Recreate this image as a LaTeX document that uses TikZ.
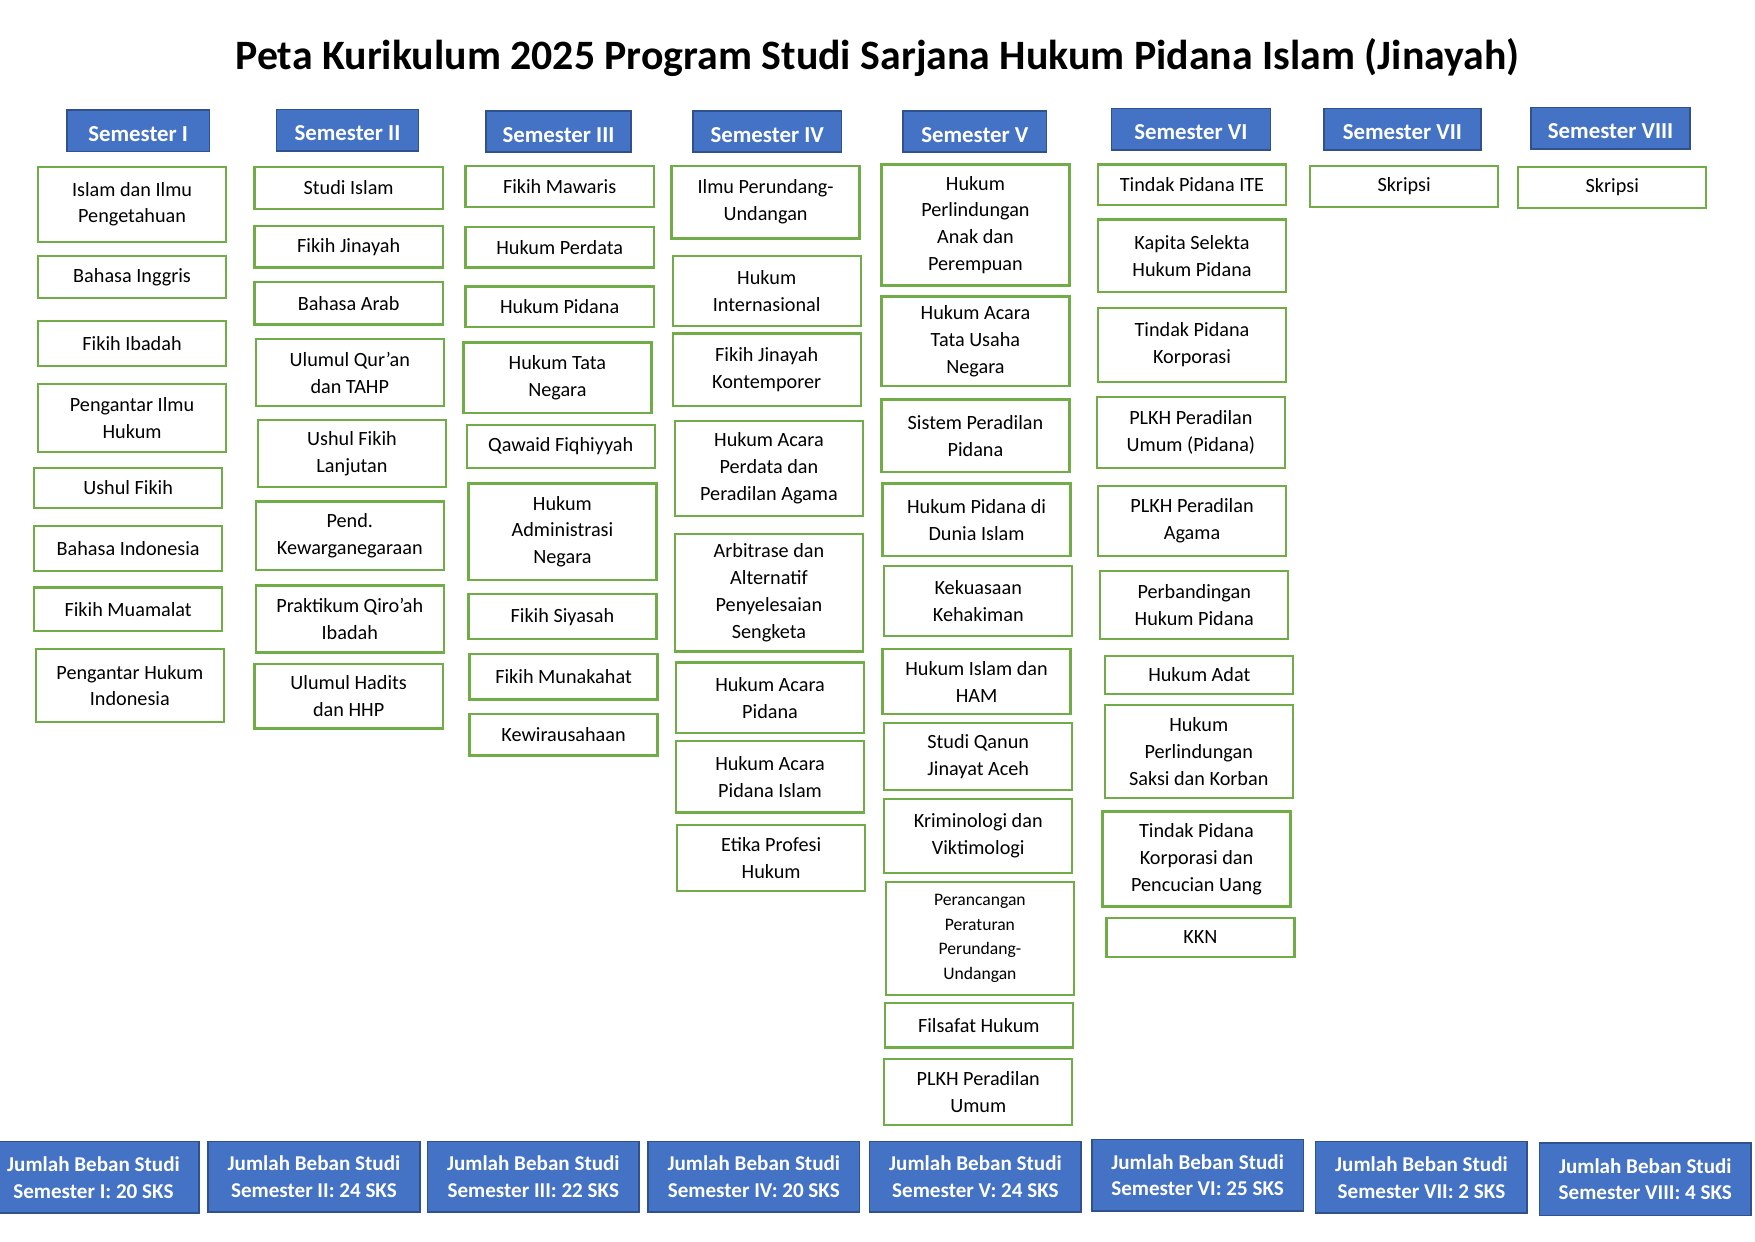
\documentclass[tikz,border=0pt]{standalone}
\usepackage{fontspec}
\setmainfont{Carlito}
\usetikzlibrary{positioning}
\definecolor{hdrblue}{HTML}{4472C4}
\definecolor{hdredge}{HTML}{2F528F}
\definecolor{mkgreen}{HTML}{70AD47}

\begin{document}
\begin{tikzpicture}[
    x=0.2238mm, y=-0.2238mm,
    sem/.style={draw=hdredge, fill=hdrblue, line width=0.9pt, text=white, inner sep=0pt,
        text height=12pt, text depth=0pt,
        font=\fontsize{13}{15}\selectfont\bfseries, minimum width=#1*0.2238mm, minimum height=37*0.2238mm},
    course/.style={draw=mkgreen, fill=white, line width=1.3pt, align=center, inner sep=0pt,
        font=\fontsize{11.5}{15.3}\selectfont, minimum width=168*0.2238mm, minimum height=#1*0.2238mm},
    total/.style={draw=hdredge, fill=hdrblue, line width=0.9pt, text=white, align=center, inner sep=0pt,
        font=\fontsize{12}{15.3}\selectfont\bfseries, minimum width=189*0.2238mm, minimum height=#1*0.2238mm},
    course/.default=37, total/.default=63,
]
\useasboundingbox (0,0) rectangle (1568,1109);
\node[font=\fontsize{23.8}{28}\selectfont\bfseries] (title) at (784,51) {Peta Kurikulum 2025 Program Studi Sarjana Hukum Pidana Islam (Jinayah)};
% semester headers
\node[sem=127] (s1) at (123.5,117) {Semester I};
\node[sem=127] (s2) at (310.5,116.5) {Semester II};
\node[sem=130] (s3) at (499,117.5) {Semester III};
\node[sem=133] (s4) at (685.5,117.5) {Semester IV};
\node[sem=128] (s5) at (871,117.5) {Semester V};
\node[sem=142] (s6) at (1064,115.5) {Semester VI};
\node[sem=140] (s7) at (1253,115.5) {Semester VII};
\node[sem=142] (s8) at (1439,114.5) {Semester VIII};
% semester I
\node[course=67] (islam) at (118,182.5) {Islam dan Ilmu\\Pengetahuan};
\node[course] (inggris) at (118,247.5) {Bahasa Inggris};
\node[course=40] (ibadah) at (118,307) {Fikih Ibadah};
\node[course=61] (pih) at (118,373.5) {Pengantar Ilmu\\Hukum};
\node[course=36] (ushul) at (114.5,436) {Ushul Fikih};
\node[course=40] (indo) at (114.5,490) {Bahasa Indonesia};
\node[course=39] (muamalat) at (114.5,544.5) {Fikih Muamalat};
\node[course=65] (phi) at (116,612.5) {Pengantar Hukum\\Indonesia};
% semester II
\node[course=38] (studi) at (311.5,168) {Studi Islam};
\node[course] (jinayah) at (311.5,220.5) {Fikih Jinayah};
\node[course=38] (arab) at (311.5,271) {Bahasa Arab};
\node[course=60] (quran) at (312.5,333) {Ulumul Qur’an\\dan TAHP};
\node[course=60] (ushullanj) at (314.5,405) {Ushul Fikih\\Lanjutan};
\node[course=61] (pkn) at (312.5,478.5) {Pend.\\Kewarganegaraan};
\node[course=60] (qiroah) at (312.5,553) {Praktikum Qiro’ah\\Ibadah};
\node[course=58] (hadits) at (311.5,622) {Ulumul Hadits\\dan HHP};
% semester III
\node[course] (mawaris) at (500,166.5) {Fikih Mawaris};
\node[course=36] (perdata) at (500,221) {Hukum Perdata};
\node[course=36] (pidana) at (500,274) {Hukum Pidana};
\node[course=63] (htn) at (498,337.5) {Hukum Tata\\Negara};
\node[course=38] (qawaid) at (501,399) {Qawaid Fiqhiyyah};
\node[course=86] (han) at (502.5,475) {Hukum\\Administrasi\\Negara};
\node[course=40] (siyasah) at (502.5,551) {Fikih Siyasah};
\node[course=41] (munakahat) at (503.5,604.5) {Fikih Munakahat};
\node[course] (wirausaha) at (503.5,656.5) {Kewirausahaan};
% semester IV
\node[course=65] (perundang) at (684,180.5) {Ilmu Perundang-\\Undangan};
\node[course=62] (hi) at (685,260) {Hukum\\Internasional};
\node[course=65] (kontemp) at (685,330.5) {Fikih Jinayah\\Kontemporer};
\node[course=85] (acaraperdata) at (687,418.5) {Hukum Acara\\Perdata dan\\Peradilan Agama};
\node[course=105] (arbitrase) at (687,529.5) {Arbitrase dan\\Alternatif\\Penyelesaian\\Sengketa};
\node[course=63] (acarapidana) at (688,623.5) {Hukum Acara\\Pidana};
\node[course=64] (acaraislam) at (688,694) {Hukum Acara\\Pidana Islam};
\node[course=59] (etika) at (689,766.5) {Etika Profesi\\Hukum};
% semester V
\node[course=108] (anak) at (871.5,201) {Hukum\\Perlindungan\\Anak dan\\Perempuan};
\node[course=80] (ptun) at (871.5,305) {Hukum Acara\\Tata Usaha\\Negara};
\node[course=65] (spp) at (871.5,389.5) {Sistem Peradilan\\Pidana};
\node[course=65] (dunia) at (872.5,464.5) {Hukum Pidana di\\Dunia Islam};
\node[course=62] (hakim) at (874,537) {Kekuasaan\\Kehakiman};
\node[course=58] (ham) at (872.5,609) {Hukum Islam dan\\HAM};
\node[course=60] (qanun) at (874,676) {Studi Qanun\\Jinayat Aceh};
\node[course=66] (krim) at (874,747) {Kriminologi dan\\Viktimologi};
\node[course=101, font=\fontsize{10}{14}\selectfont] (rancang) at (875.5,838.5) {Perancangan\\Peraturan\\Perundang-\\Undangan};
\node[course=40] (filsafat) at (874.5,916) {Filsafat Hukum};
\node[course=59] (plkhumum) at (874,975.5) {PLKH Peradilan\\Umum};
% semester VI
\node[course=36] (ite) at (1065,165) {Tindak Pidana ITE};
\node[course=65] (kapita) at (1065,228.5) {Kapita Selekta\\Hukum Pidana};
\node[course=66] (korporasi) at (1065,308) {Tindak Pidana\\Korporasi};
\node[course=63] (plkhpidana) at (1064,386.5) {PLKH Peradilan\\Umum (Pidana)};
\node[course=63] (plkhagama) at (1065,465.5) {PLKH Peradilan\\Agama};
\node[course=61] (banding) at (1067,540.5) {Perbandingan\\Hukum Pidana};
\node[course=34] (adat) at (1071.5,603) {Hukum Adat};
\node[course=83] (saksi) at (1071,671.5) {Hukum\\Perlindungan\\Saksi dan Korban};
\node[course=85] (tppu) at (1069,767.5) {Tindak Pidana\\Korporasi dan\\Pencucian Uang};
\node[course=35] (kkn) at (1072.5,837.5) {KKN};
% semester VII and VIII
\node[course] (skripsi7) at (1254.5,166.5) {Skripsi};
\node[course] (skripsi8) at (1440.5,167.5) {Skripsi};
% study load
\node[total=64] (t1) at (83.5,1052) {Jumlah Beban Studi\\Semester I: 20 SKS};
\node[total] (t2) at (280.5,1051.5) {Jumlah Beban Studi\\Semester II: 24 SKS};
\node[total] (t3) at (476.5,1051.5) {Jumlah Beban Studi\\Semester III: 22 SKS};
\node[total] (t4) at (673.5,1051.5) {Jumlah Beban Studi\\Semester IV: 20 SKS};
\node[total] (t5) at (871.5,1051.5) {Jumlah Beban Studi\\Semester V: 24 SKS};
\node[total=64] (t6) at (1070,1050) {Jumlah Beban Studi\\Semester VI: 25 SKS};
\node[total=64] (t7) at (1270,1052) {Jumlah Beban Studi\\Semester VII: 2 SKS};
\node[total=65] (t8) at (1470,1053.5) {Jumlah Beban Studi\\Semester VIII: 4 SKS};
\end{tikzpicture}
\end{document}
